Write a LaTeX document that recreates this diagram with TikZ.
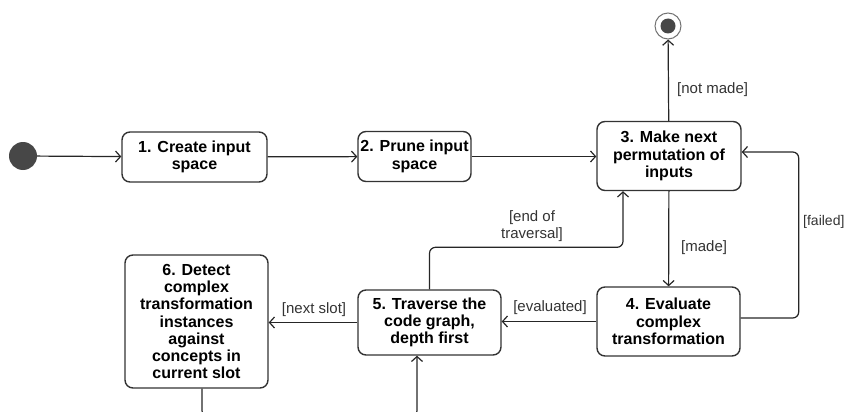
\documentclass[tikz,border=0pt]{standalone}
\usepackage{fontspec}
\setmainfont{Liberation Sans}
\usetikzlibrary{arrows.meta}

\begin{document}
\begin{tikzpicture}[x=1pt,y=-1pt,
    act/.style={rectangle,draw=black!80,line width=1.4pt,rounded corners=8pt,fill=white,
        align=center,inner sep=0pt,font=\fontsize{16}{17.3}\selectfont\bfseries},
    flow/.style={draw=black!85,line width=1.2pt,-{Straight Barb[length=5pt,width=11pt]}},
    guard/.style={inner sep=0pt,text=black!80,align=center,font=\fontsize{15}{17}\selectfont}]
    \useasboundingbox (0,0) rectangle (846,412);

    %\node (start) [circle,draw,fill=black] at (23,156) {};
    \node (start) [circle,fill=black!72,minimum size=28pt,inner sep=0pt] at (23,156) {};
    \node (stop) [circle,draw=black!55,line width=1pt,minimum size=26pt,inner sep=0pt] at (668,26) {};
    \fill[black!72] (stop) circle (7.5pt);

    \node (a1) [act,minimum width=145pt,minimum height=50pt] at (194.5,157) {1. Create input\\space};
    \node (a2) [act,minimum width=113pt,minimum height=50pt] at (414.5,156.5) {2. Prune input\\space};
    \node (a3) [act,minimum width=144pt,minimum height=69pt] at (669,156) {3. Make next\\permutation of\\inputs};
    \node (a4) [act,minimum width=143pt,minimum height=69pt] at (668.5,321.5) {4. Evaluate\\complex\\transformation};
    \node (a5) [act,minimum width=143pt,minimum height=65pt] at (429.5,322.5) {5. Traverse the\\code graph,\\depth first};
    \node (a6) [act,minimum width=143pt,minimum height=133pt] at (196.5,321.5) {6. Detect\\complex\\transformation\\instances\\against\\concepts in\\current slot};

    \node (gnotmade) [guard,anchor=west] at (677,90) {[not made]};
    \node (gmade) [guard,anchor=west] at (681,248) {[made]};
    \node (gfailed) [guard,anchor=west,font=\fontsize{14}{16}\selectfont] at (803,222) {[failed]};
    \node (gevaluated) [guard] at (550,308) {[evaluated]};
    \node (gend) [guard] at (532,226) {[end of\\traversal]};
    \node (gnext) [guard] at (314,310) {[next slot]};

    \draw[flow] (start) -- (a1);
    \draw[flow] (a1) -- (a2);
    \draw[flow] (a2.east) -- (a2.east -| a3.west);
    \draw[flow] (a3) -- (stop);
    \draw[flow] (a3) -- (a4);
    \draw[flow,rounded corners=6pt] ([yshift=3.5pt]a4.east) -- ++(58,0) |- ([yshift=4pt]a3.east);
    \draw[flow] (a4.west) -- (a4.west -| a5.east);
    \draw[flow,rounded corners=6pt] (a5.north) -- ++(0,-42) -| ([xshift=-46pt]a3.south);
    \draw[flow] (a5.west) -- (a5.west -| a6.east);
    \draw[flow,rounded corners=6pt] ([xshift=5.5pt]a6.south) -- ++(0,28) -| ([xshift=-12.5pt]a5.south);
\end{tikzpicture}
\end{document}
